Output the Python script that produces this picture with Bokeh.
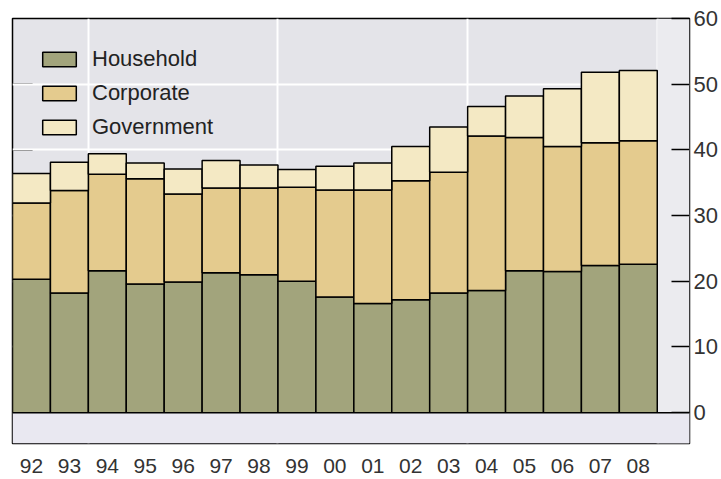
from bokeh.plotting import figure
from bokeh.models import (ColumnDataSource, Range1d, FixedTicker, Legend,
                          LegendItem, BoxAnnotation, Span)
from bokeh.embed import file_html
from bokeh.resources import INLINE

years = ["92", "93", "94", "95", "96", "97", "98", "99", "00", "01", "02", "03",
         "04", "05", "06", "07", "08"]
household = [20.3, 18.2, 21.6, 19.6, 19.9, 21.3, 21.0, 20.0, 17.6, 16.6, 17.2, 18.2,
             18.6, 21.6, 21.5, 22.4, 22.6]
corporate = [11.6, 15.6, 14.7, 16.0, 13.4, 12.9, 13.2, 14.3, 16.3, 17.3, 18.1, 18.4,
             23.5, 20.3, 19.0, 18.7, 18.8]
government = [4.5, 4.3, 3.1, 2.4, 3.8, 4.2, 3.5, 2.7, 3.6, 4.1, 5.2, 6.9,
              4.5, 6.3, 8.8, 10.7, 10.7]
group_sizes = [2, 5, 5, 5]
y_ticks = [0, 10, 20, 30, 40, 50, 60]

series = ["household", "corporate", "government"]
labels = ["Household", "Corporate", "Government"]
colors = ["#a2a47c", "#e4cb8e", "#f4e9c4"]

xs = list(range(len(years)))
src = ColumnDataSource(dict(x=xs, household=household, corporate=corporate,
                            government=government))

# group boundaries
bounds = []
acc = 0
for g in group_sizes:
    acc += g
    bounds.append(acc - 0.5)
minor = [i + 0.5 for i in range(len(years) - 1) if (i + 0.5) not in bounds]

FONT = "Liberation Sans"
X0, X1, Y0, Y1 = -0.5, 17.35, -4.7, 60

p = figure(width=720, height=475, output_backend="svg", toolbar_location=None,
           x_range=Range1d(X0, X1), y_range=Range1d(Y0, Y1),
           y_axis_location="right",
           min_border_left=12, min_border_top=18, min_border_right=0, min_border_bottom=0)
p.background_fill_color = "#e4e4e9"
p.border_fill_color = "white"
p.outline_line_color = "black"
p.outline_line_width = 1.5

# lighter band right of last bar
p.add_layout(BoxAnnotation(left=bounds[-1], fill_color="#ebebef", fill_alpha=1,
                           line_alpha=0, level="underlay"))

# grids
p.xgrid.ticker = FixedTicker(ticks=bounds)
p.xgrid.grid_line_color = "white"
p.xgrid.grid_line_width = 2
p.ygrid.ticker = FixedTicker(ticks=y_ticks[1:-1])
p.ygrid.grid_line_color = "white"
p.ygrid.grid_line_width = 2

# left inward ticks (behind the bars)
lt = y_ticks[1:-1]
p.segment(x0=[X0] * len(lt), x1=[X0 + 0.53] * len(lt), y0=lt, y1=lt,
          line_color="black", line_width=1.5, level="underlay")

renderers = p.vbar_stack(series, x="x", width=1.0, source=src, color=colors,
                         line_color="black", line_width=1.5)

# bottom strip
p.add_layout(BoxAnnotation(top=0, fill_color="#e9e8f1", fill_alpha=1, line_alpha=0))
p.add_layout(Span(location=0, dimension="width", line_color="black", line_width=1.5))
p.segment(x0=bounds, x1=bounds, y0=[Y0] * len(bounds), y1=[0] * len(bounds),
          line_color="black", line_width=1.5)

# right axis
ra = p.yaxis[0]
ra.ticker = FixedTicker(ticks=y_ticks)
ra.axis_line_color = None
ra.major_tick_in = 18
ra.major_tick_out = 0
ra.major_tick_line_color = "black"
ra.major_tick_line_width = 1.5
ra.minor_tick_line_color = None
ra.major_label_standoff = 4
ra.major_label_text_font = FONT
ra.major_label_text_font_size = "22px"
ra.major_label_text_color = "#333333"

# bottom axis
xa = p.xaxis[0]
xa.ticker = FixedTicker(ticks=xs, minor_ticks=minor)
xa.major_label_overrides = {i: y for i, y in enumerate(years)}
xa.axis_line_color = None
xa.major_tick_line_color = None
xa.minor_tick_in = 13
xa.minor_tick_out = 0
xa.minor_tick_line_color = "black"
xa.minor_tick_line_width = 1.5
xa.major_label_standoff = 9
xa.major_label_text_font = FONT
xa.major_label_text_font_size = "21px"
xa.major_label_text_color = "#333333"

legend = Legend(items=[LegendItem(label=l, renderers=[r]) for l, r in zip(labels, renderers)],
                location=(22, 299), background_fill_alpha=0, border_line_alpha=0,
                glyph_width=42, glyph_height=18, label_height=26, spacing=8,
                label_standoff=12, padding=4, margin=0,
                label_text_font=FONT, label_text_font_size="22px",
                label_text_color="#222222")
p.add_layout(legend, "center")

open("out.html", "w").write(file_html(p, INLINE))
